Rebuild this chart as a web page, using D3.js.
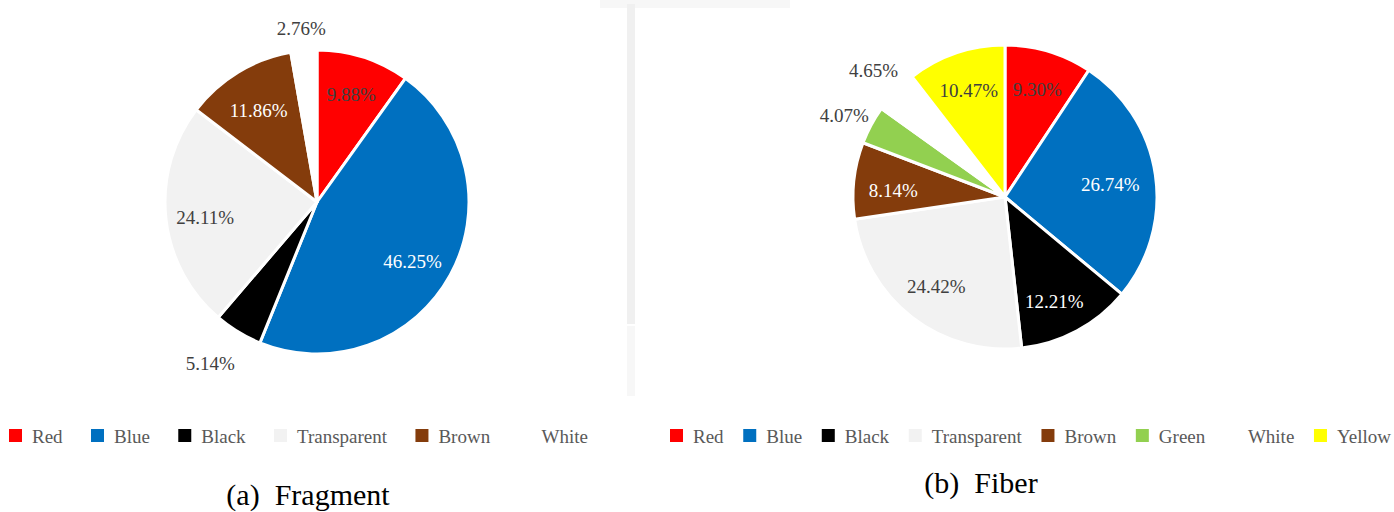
<!DOCTYPE html>
<html>
<head>
<meta charset="utf-8">
<script src="https://cdn.jsdelivr.net/npm/d3@7"></script>
<style>
  html, body { margin: 0; padding: 0; background: #ffffff; }
  svg { display: block; }
</style>
</head>
<body>
<svg id="chart" width="1394" height="512"></svg>
<script>
// ---- data ----
const fragmentCategories = ["Red", "Blue", "Black", "Transparent", "Brown", "White"];
const fragmentValues = [9.88, 46.25, 5.14, 24.11, 11.86, 2.76];

const fiberCategories = ["Red", "Blue", "Black", "Transparent", "Brown", "Green", "White", "Yellow"];
const fiberValues = [9.30, 26.74, 12.21, 24.42, 8.14, 4.07, 4.65, 10.47];

const captions = ["(a)  Fragment", "(b)  Fiber"];

// ---- styling ----
const colorOf = {
  Red: "#ff0000", Blue: "#0070c0", Black: "#000000", Transparent: "#f2f2f2",
  Brown: "#843c0c", Green: "#92d050", White: "#ffffff", Yellow: "#ffff00"
};
const labelInk = {
  Red: "#404040", Blue: "#ffffff", Black: "#ffffff", Transparent: "#404040",
  Brown: "#ffffff", Green: "#404040", White: "#404040", Yellow: "#404040"
};
const serif = '"Liberation Serif", "Times New Roman", serif';

const svg = d3.select("#chart");

// faint vertical strip between the two panels
const strip = svg.append("g").attr("fill", "#f0f0f0");
strip.append("rect").attr("x", 627).attr("y", 4).attr("width", 8).attr("height", 320);
strip.append("rect").attr("x", 627).attr("y", 326).attr("width", 8).attr("height", 70).attr("opacity", 0.5);
strip.append("rect").attr("x", 600).attr("y", 0).attr("width", 190).attr("height", 8).attr("opacity", 0.5);
svg.append("rect").attr("x", 636).attr("y", 9).attr("width", 758).attr("height", 460).attr("fill", "#ffffff");

function drawPie(cfg) {
  const { cats, vals, cx, cy, r, outside, nudge } = cfg;
  const data = cats.map((c, i) => ({ cat: c, value: vals[i] }));
  const pie = d3.pie().sort(null).value(d => d.value);
  const arcs = pie(data);
  const arc = d3.arc().innerRadius(0).outerRadius(r);
  const inLabel = d3.arc().innerRadius(r * 0.74).outerRadius(r * 0.74);
  const outLabel = d3.arc().innerRadius(r * 1.2).outerRadius(r * 1.2);

  const g = svg.append("g").attr("transform", `translate(${cx},${cy})`);
  g.selectAll("path.slice")
    .data(arcs)
    .join("path")
    .attr("class", "slice")
    .attr("d", arc)
    .attr("fill", d => colorOf[d.data.cat])
    .attr("stroke", "#ffffff")
    .attr("stroke-width", 3)
    .attr("stroke-linejoin", "round");

  g.selectAll("text.pct")
    .data(arcs)
    .join("text")
    .attr("class", "pct")
    .attr("transform", d => {
      const p = outside.includes(d.data.cat) ? outLabel.centroid(d) : inLabel.centroid(d);
      const n = nudge[d.data.cat] || [0, 0];
      return `translate(${p[0] + n[0]},${p[1] + n[1]})`;
    })
    .attr("text-anchor", "middle")
    .attr("dominant-baseline", "central")
    .style("font-family", serif)
    .attr("font-size", 19)
    .attr("fill", d => outside.includes(d.data.cat) ? "#404040" : labelInk[d.data.cat])
    .text(d => d.data.value.toFixed(2) + "%");
}

// legend row spread between a left edge and a right edge
function drawLegend(cats, x0, x1, y) {
  const g = svg.append("g");
  const items = cats.map(c => {
    const it = g.append("g");
    it.append("rect")
      .attr("y", y - 7).attr("width", 13).attr("height", 13)
      .attr("fill", colorOf[c]);
    const t = it.append("text")
      .attr("x", 23).attr("y", y)
      .attr("dominant-baseline", "central")
      .style("font-family", serif)
      .attr("font-size", 19)
      .attr("fill", "#595959")
      .text(c);
    return { it, w: 23 + t.node().getComputedTextLength() };
  });
  const total = d3.sum(items, d => d.w);
  const gap = (x1 - x0 - total) / (items.length - 1);
  let x = x0;
  items.forEach(d => {
    d.it.attr("transform", `translate(${x},0)`);
    x += d.w + gap;
  });
}

drawPie({
  cats: fragmentCategories, vals: fragmentValues, cx: 317, cy: 202, r: 152,
  outside: ["Black", "White"],
  nudge: { White: [0, 8], Black: [-12, 6], Transparent: [0, 4], Brown: [0, 5], Blue: [-3, 5] }
});
drawPie({
  cats: fiberCategories, vals: fiberValues, cx: 1005, cy: 197, r: 152,
  outside: ["Green", "White"],
  nudge: { Brown: [0, 6], Green: [0, 5], Blue: [-6, 4], Black: [-4, 5] }
});

drawLegend(fragmentCategories, 9, 588, 436);
drawLegend(fiberCategories, 670, 1391, 436);

svg.append("text")
  .attr("x", 308).attr("y", 505)
  .attr("text-anchor", "middle")
  .style("font-family", serif)
  .attr("font-size", 30)
  .attr("fill", "#000000")
  .style("white-space", "pre")
  .text(captions[0]);
svg.append("text")
  .attr("x", 981).attr("y", 493)
  .attr("text-anchor", "middle")
  .style("font-family", serif)
  .attr("font-size", 30)
  .attr("fill", "#000000")
  .style("white-space", "pre")
  .text(captions[1]);
</script>
</body>
</html>
